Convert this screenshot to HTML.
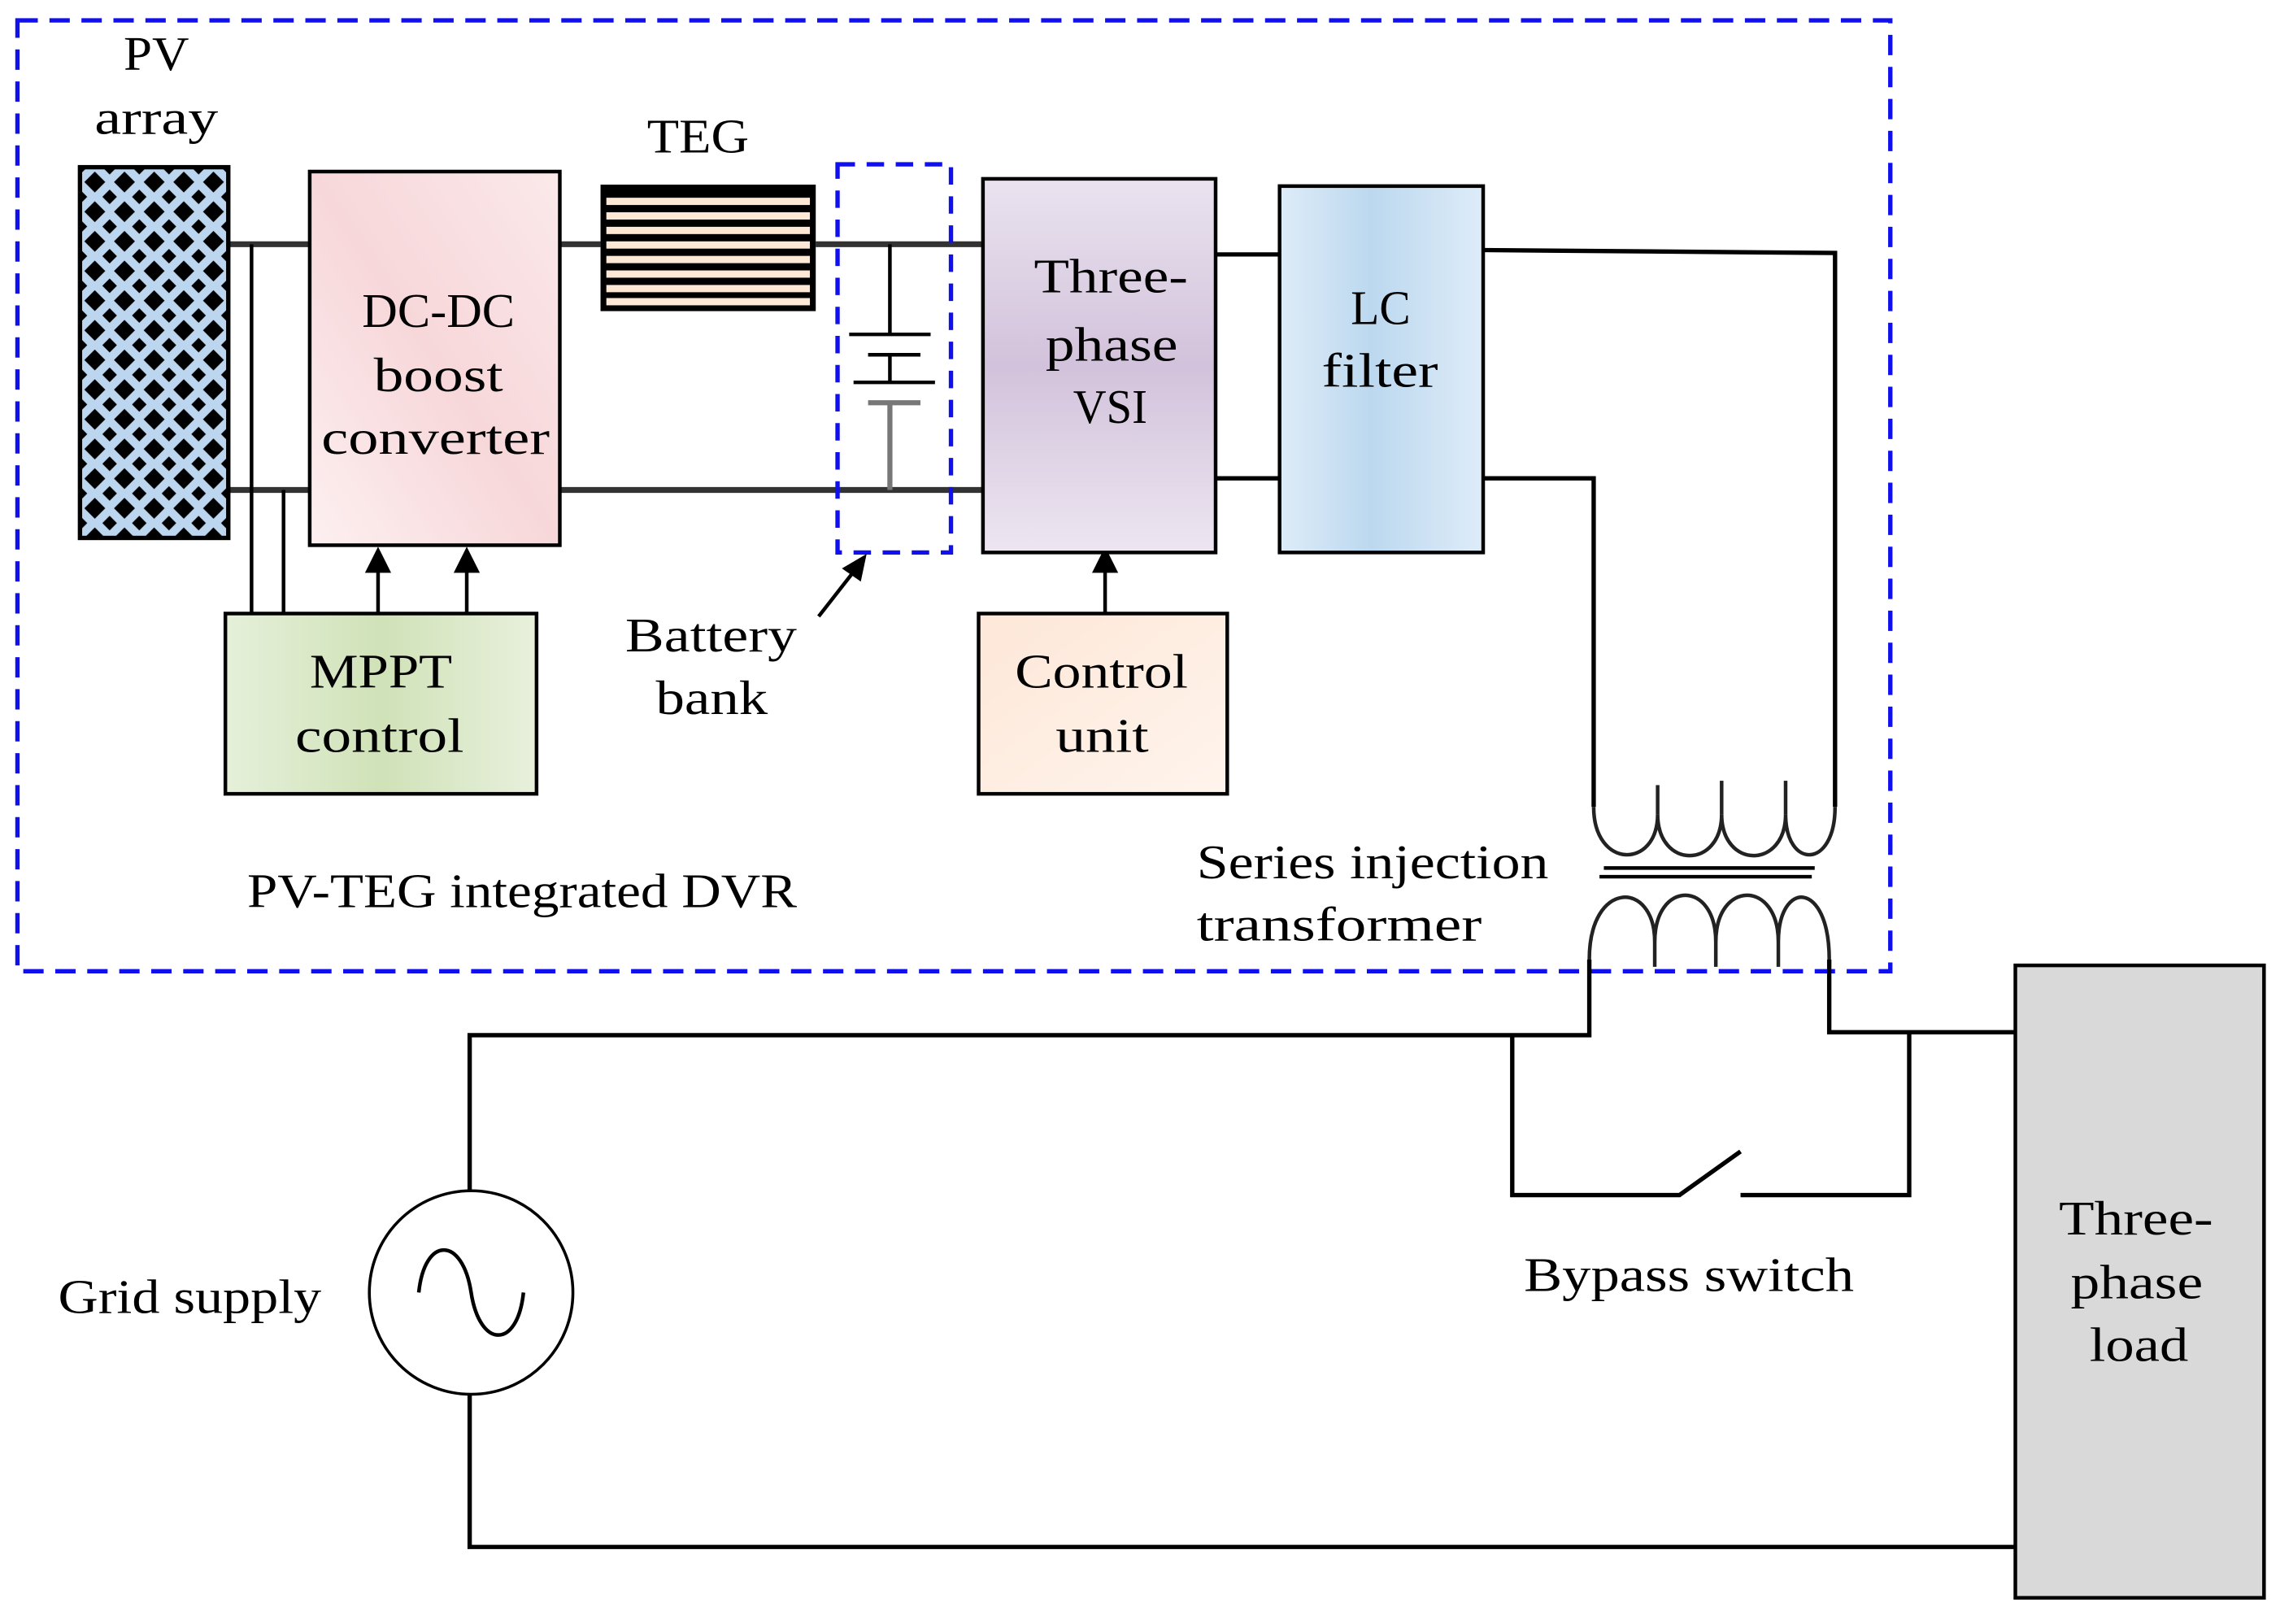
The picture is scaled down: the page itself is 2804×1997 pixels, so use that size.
<!DOCTYPE html>
<html><head><meta charset="utf-8"><style>
html,body{margin:0;padding:0;background:#fff;}
svg{display:block;}
text{font-family:"Liberation Serif",serif;font-size:33px;fill:#000;}
</style></head><body>
<svg width="2804" height="1997" viewBox="0 0 1568 1117" preserveAspectRatio="none" xmlns="http://www.w3.org/2000/svg">
<defs>
<pattern id="pv" x="55" y="115" width="20.4" height="20.4" patternUnits="userSpaceOnUse">
<rect width="20.4" height="20.4" fill="#bcd6ef"/>
<polygon points="10.2,3 17.4,10.2 10.2,17.4 3,10.2" fill="#000"/>
<polygon points="0,-5 5,0 0,5 -5,0" fill="#000"/>
<polygon points="20.4,-5 25.4,0 20.4,5 15.4,0" fill="#000"/>
<polygon points="0,15.4 5,20.4 0,25.4 -5,20.4" fill="#000"/>
<polygon points="20.4,15.4 25.4,20.4 20.4,25.4 15.4,20.4" fill="#000"/>
</pattern>
<linearGradient id="pink" x1="0" y1="1" x2="1" y2="0"><stop offset="0" stop-color="#fdf0f0"/><stop offset="0.5" stop-color="#f7d7da"/><stop offset="1" stop-color="#fbe9ea"/></linearGradient>
<linearGradient id="green" x1="0" y1="0" x2="1" y2="0"><stop offset="0" stop-color="#e6f0da"/><stop offset="0.5" stop-color="#d0e2b8"/><stop offset="1" stop-color="#e8f0dc"/></linearGradient>
<linearGradient id="lav" x1="0" y1="0" x2="0" y2="1"><stop offset="0" stop-color="#eae3ef"/><stop offset="0.5" stop-color="#d2c2db"/><stop offset="1" stop-color="#ede6f1"/></linearGradient>
<linearGradient id="peach" x1="0" y1="0" x2="1" y2="1"><stop offset="0" stop-color="#fde7d8"/><stop offset="1" stop-color="#fff4ec"/></linearGradient>
<linearGradient id="blue" x1="0" y1="0" x2="1" y2="0"><stop offset="0" stop-color="#deecf8"/><stop offset="0.45" stop-color="#bcd8ef"/><stop offset="1" stop-color="#deecf8"/></linearGradient>
</defs>

<rect x="12" y="14" width="1288" height="654" fill="none" stroke="#1010ee" stroke-width="3" stroke-dasharray="14,8"/>

<g stroke="#333" stroke-width="4" fill="none">
<line x1="157" y1="168" x2="213" y2="168"/><line x1="385" y1="168" x2="413" y2="168"/><line x1="561" y1="168" x2="676" y2="168"/>
<line x1="157" y1="337" x2="213" y2="337"/><line x1="385" y1="337" x2="678" y2="337"/>
</g>
<g stroke="#000" stroke-width="2.5" fill="none">
<line x1="173" y1="168" x2="173" y2="422"/><line x1="195" y1="337" x2="195" y2="422"/>
<line x1="612" y1="168" x2="612" y2="230"/><line x1="584" y1="230" x2="640" y2="230"/>
<line x1="597" y1="244" x2="633" y2="244"/><line x1="612" y1="244" x2="612" y2="263"/>
<line x1="587" y1="263" x2="643" y2="263"/>
</g>
<g stroke="#777" stroke-width="3.5"><line x1="597" y1="277" x2="633" y2="277"/><line x1="612" y1="277" x2="612" y2="337"/></g>

<rect x="576" y="113" width="78" height="267" fill="none" stroke="#1010ee" stroke-width="3" stroke-dasharray="12,8"/>

<rect x="55" y="115" width="102" height="255" fill="url(#pv)" stroke="#000" stroke-width="3"/>
<text x="85" y="48" textLength="45" lengthAdjust="spacingAndGlyphs">PV</text>
<text x="65" y="92" textLength="85" lengthAdjust="spacingAndGlyphs">array</text>

<rect x="213" y="118" width="172" height="257" fill="url(#pink)" stroke="#000" stroke-width="2.5"/>
<text x="249" y="225" textLength="105" lengthAdjust="spacingAndGlyphs">DC-DC</text>
<text x="257" y="269" textLength="89" lengthAdjust="spacingAndGlyphs">boost</text>
<text x="221" y="312" textLength="157" lengthAdjust="spacingAndGlyphs">converter</text>

<rect x="413" y="127" width="148" height="87" fill="#000"/>
<g fill="#fde8d6">
<rect x="417" y="136" width="140" height="5"/><rect x="417" y="146" width="140" height="5"/><rect x="417" y="156" width="140" height="5"/><rect x="417" y="166" width="140" height="5"/><rect x="417" y="176" width="140" height="5"/><rect x="417" y="186" width="140" height="5"/><rect x="417" y="196" width="140" height="5"/><rect x="417" y="205" width="140" height="5"/>
</g>
<text x="445" y="105" textLength="70" lengthAdjust="spacingAndGlyphs">TEG</text>

<rect x="155" y="422" width="214" height="124" fill="url(#green)" stroke="#000" stroke-width="2.5"/>
<text x="213" y="473" textLength="98" lengthAdjust="spacingAndGlyphs">MPPT</text>
<text x="203" y="517" textLength="116" lengthAdjust="spacingAndGlyphs">control</text>
<g stroke="#000" stroke-width="2.5"><line x1="260" y1="422" x2="260" y2="390"/><line x1="321" y1="422" x2="321" y2="390"/><line x1="760" y1="422" x2="760" y2="390"/></g>
<g fill="#000"><path d="M260,376 L251,394 L269,394 Z"/><path d="M321,376 L312,394 L330,394 Z"/><path d="M760,376 L751,394 L769,394 Z"/></g>

<text x="430" y="448" textLength="118" lengthAdjust="spacingAndGlyphs">Battery</text>
<text x="451" y="491" textLength="77" lengthAdjust="spacingAndGlyphs">bank</text>
<line x1="563" y1="424" x2="588" y2="392" stroke="#000" stroke-width="2.5"/>
<path d="M596,381 L579,391 L592,400 Z" fill="#000"/>

<rect x="676" y="123" width="160" height="257" fill="url(#lav)" stroke="#000" stroke-width="2.5"/>
<text x="711" y="201" textLength="106" lengthAdjust="spacingAndGlyphs">Three-</text>
<text x="719" y="248" textLength="91" lengthAdjust="spacingAndGlyphs">phase</text>
<text x="738" y="291" textLength="51" lengthAdjust="spacingAndGlyphs">VSI</text>

<rect x="673" y="422" width="171" height="124" fill="url(#peach)" stroke="#000" stroke-width="2.5"/>
<text x="698" y="473" textLength="119" lengthAdjust="spacingAndGlyphs">Control</text>
<text x="726" y="517" textLength="64" lengthAdjust="spacingAndGlyphs">unit</text>

<rect x="880" y="128" width="140" height="252" fill="url(#blue)" stroke="#000" stroke-width="2.5"/>
<text x="929" y="223" textLength="41" lengthAdjust="spacingAndGlyphs">LC</text>
<text x="909" y="266" textLength="80" lengthAdjust="spacingAndGlyphs">filter</text>

<g stroke="#000" stroke-width="3" fill="none">
<line x1="836" y1="175" x2="880" y2="175"/><line x1="836" y1="329" x2="880" y2="329"/>
<polyline points="1020,172 1262,174 1262,555"/>
<polyline points="1020,329 1096,329 1096,555"/>
</g>
<g stroke="#222" stroke-width="2.5" fill="none">
<path d="M1096,555 C1096,598 1140,598 1140,560 C1140,598 1184,598 1184,560 C1184,598 1228,598 1228,560 C1228,598 1262,598 1262,555"/>
<line x1="1140" y1="560" x2="1140" y2="540"/><line x1="1184" y1="560" x2="1184" y2="537"/><line x1="1228" y1="560" x2="1228" y2="537"/>
<line x1="1103" y1="597" x2="1248" y2="597" stroke="#000"/><line x1="1100" y1="603" x2="1246" y2="603" stroke="#000"/>
<path d="M1093,660 C1093,605 1138,605 1138,648 C1138,605 1180,605 1180,648 C1180,605 1223,605 1223,648 C1223,605 1258,605 1258,660"/>
<line x1="1138" y1="648" x2="1138" y2="665"/><line x1="1180" y1="648" x2="1180" y2="665"/><line x1="1223" y1="648" x2="1223" y2="665"/>
</g>
<g stroke="#000" stroke-width="3" fill="none">
<polyline points="1093,660 1093,712 323,712 323,820"/>
<polyline points="1258,660 1258,710 1386,710"/>
<polyline points="1040,712 1040,822 1155,822 1197,792"/>
<polyline points="1197,822 1313,822 1313,710"/>
<polyline points="323,959 323,1064 1386,1064"/>
<circle cx="324" cy="889" r="70" stroke-width="2"/>
<path d="M288,889 C292,850 318,850 324,889 C330,928 356,928 360,889" stroke-width="2.5"/>
</g>

<rect x="1386" y="664" width="171" height="435" fill="#d9d9d9" stroke="#000" stroke-width="2.5"/>
<text x="1416" y="849" textLength="106" lengthAdjust="spacingAndGlyphs">Three-</text>
<text x="1424" y="893" textLength="91" lengthAdjust="spacingAndGlyphs">phase</text>
<text x="1437" y="936" textLength="68" lengthAdjust="spacingAndGlyphs">load</text>

<text x="40" y="903" textLength="181" lengthAdjust="spacingAndGlyphs">Grid supply</text>
<text x="1048" y="888" textLength="227" lengthAdjust="spacingAndGlyphs">Bypass switch</text>
<text x="823" y="604" textLength="242" lengthAdjust="spacingAndGlyphs">Series injection</text>
<text x="823" y="647" textLength="196" lengthAdjust="spacingAndGlyphs">transformer</text>
<text x="170" y="624" textLength="378" lengthAdjust="spacingAndGlyphs">PV-TEG integrated DVR</text>
</svg>
</body></html>
